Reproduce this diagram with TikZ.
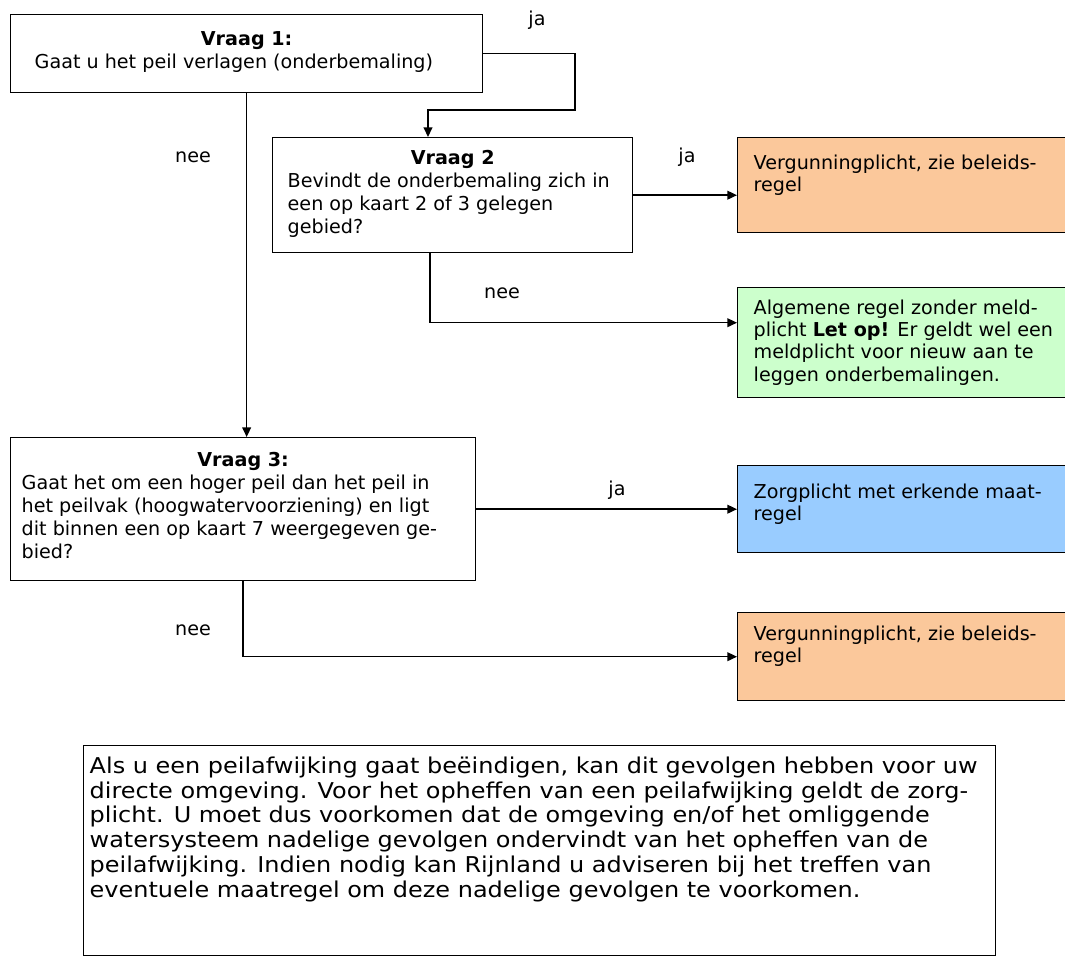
\documentclass[tikz,border=0pt]{standalone}
\usepackage{fontspec}
\setmainfont{DejaVu Sans}
\newfontfamily\breed[FakeStretch=1.1]{DejaVu Sans}
\usetikzlibrary{arrows.meta,positioning,calc}

\definecolor{oranje}{RGB}{251,200,155}
\definecolor{groen}{RGB}{204,255,204}
\definecolor{blauw}{RGB}{153,204,255}

% inner box: width, height, text (top aligned)
\newcommand{\vak}[3]{\parbox[c][#2][t]{#1}{\raggedright #3}}
\newcommand{\kop}[1]{{\centering\textbf{#1}\par}}

\begin{document}
\begin{tikzpicture}[x=0.02cm, y=-0.02cm,
    vak/.style={draw=black, line width=0.8pt, anchor=north west, inner xsep=0.32cm, inner ysep=0.26cm,
        font=\fontsize{10.9}{12.7}\selectfont},
    vraag/.style={vak, fill=white, font=\fontsize{10.9}{13.1}\selectfont},
    lbl/.style={font=\fontsize{10.9}{12}\selectfont, inner sep=0pt},
    pijl/.style={->, >={Triangle[length=5.5pt,width=5pt]}, line width=0.8pt}
]
\useasboundingbox (0,0) rectangle (1065,968);

% Vragen
\node[vraag, inner xsep=0.48cm, inner ysep=0.34cm] (v1) at (10,14) {\vak{8.48cm}{0.88cm}{\kop{Vraag 1:}Gaat u het peil verlagen (onderbemaling)}};
\node[vraag, inner xsep=0.3cm] (v2) at (272,137) {\vak{6.6cm}{1.78cm}{\kop{Vraag 2}Bevindt de onderbemaling zich in\\een op kaart 2 of 3 gelegen\\gebied?}};
\node[vraag, inner xsep=0.22cm, inner ysep=0.3cm] (v3) at (10,437) {\vak{8.86cm}{2.26cm}{\kop{Vraag 3:}Gaat het om een hoger peil dan het peil in\\het peilvak (hoogwatervoorziening) en ligt\\dit binnen een op kaart 7 weergegeven ge-\\bied?}};

% Uitkomsten
\node[vak, fill=oranje, inner ysep=0.34cm] (o1) at (737,137) {\vak{6.3cm}{1.22cm}{Vergunningplicht, zie beleids-\\regel}};
\node[vak, fill=groen, inner ysep=0.24cm] (g1) at (737,287) {\vak{6.3cm}{1.72cm}{Algemene regel zonder meld-\\plicht \textbf{Let op!} Er geldt wel een\\meldplicht voor nieuw aan te\\leggen onderbemalingen.}};
\node[vak, fill=blauw, inner ysep=0.36cm] (b1) at (737,465) {\vak{6.3cm}{1.02cm}{Zorgplicht met erkende maat-\\regel}};
\node[vak, fill=oranje] (o2) at (737,612) {\vak{6.3cm}{1.24cm}{Vergunningplicht, zie beleids-\\regel}};

% Toelichting
\node[vak, inner xsep=0.12cm, inner ysep=0.22cm, font=\breed\fontsize{12.4}{14.1}\selectfont] (tl) at (83,745) {\vak{18cm}{3.76cm}{Als u een peilafwijking gaat beëindigen, kan dit gevolgen hebben voor uw\\directe omgeving. Voor het opheffen van een peilafwijking geldt de zorg-\\plicht. U moet dus voorkomen dat de omgeving en/of het omliggende\\watersysteem nadelige gevolgen ondervindt van het opheffen van de\\peilafwijking. Indien nodig kan Rijnland u adviseren bij het treffen van\\eventuele maatregel om deze nadelige gevolgen te voorkomen.}};

% Verbindingen
\coordinate (h1) at (575,110);
\draw[pijl] (v1.east) -| (h1) -| ($(v2.north west)+(156,0)$);
\draw[pijl] (v1.south) -- (v1.south |- v3.north);
\draw[pijl] (v2.east) -- (v2.east -| o1.west);
\draw[pijl] ($(v2.south west)+(158,0)$) |- ($(g1.west)+(0,-20)$);
\draw[pijl] (v3.east) -- (v3.east -| b1.west);
\draw[pijl] (v3.south) |- (o2.west);

% Labels
\node[lbl] (ja1) at (537,20) {ja};
\node[lbl] (nee1) at (193,157) {nee};
\node[lbl] (ja2) at (687,157) {ja};
\node[lbl] (nee2) at (502,293) {nee};
\node[lbl] (ja3) at (617,490) {ja};
\node[lbl] (nee3) at (193,630) {nee};

\end{tikzpicture}
\end{document}
